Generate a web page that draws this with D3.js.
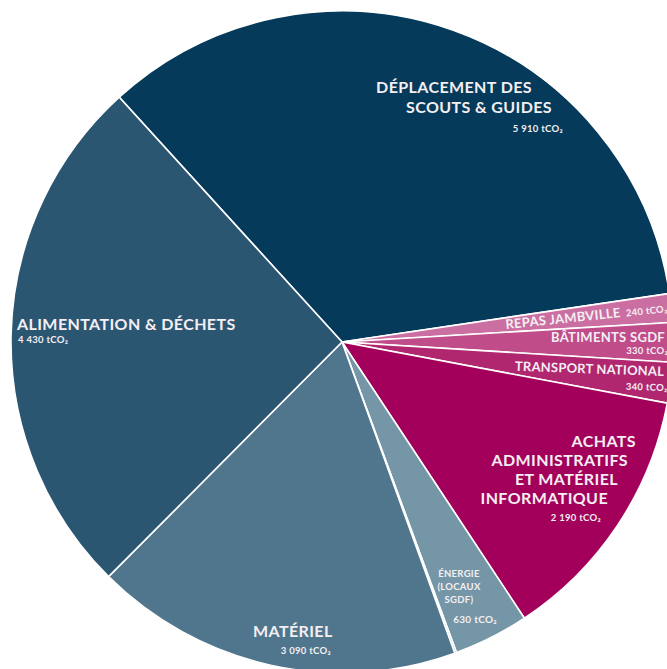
<html>
<head>
<meta charset="utf-8">
<style>
    body { margin: 0; background-color: #fff; }
    svg { display: block; }
    text { font-family: Lato, "Open Sans", sans-serif; font-weight: 700; fill: #f4eff3; }
</style>
<script src="https://d3js.org/d3.v7.min.js"></script>
</head>
<body>
<svg id="chart" width="667" height="669"></svg>
<script>
// data (tCO2), clockwise from the top-left
var categories = ["Déplacement des scouts & guides", "Repas Jambville", "Bâtiments SGDF",
                  "Transport national", "Achats administratifs et matériel informatique",
                  "Énergie (locaux SGDF)", "", "Matériel", "Alimentation & déchets"];
var values = [5910, 240, 330, 340, 2190, 630, 15, 3090, 4430];
var valueLabels = ["5 910 tCO₂", "240 tCO₂", "330 tCO₂", "340 tCO₂", "2 190 tCO₂",
                   "630 tCO₂", "", "3 090 tCO₂", "4 430 tCO₂"];
var colors = ["#053a5a", "#cb6fa2", "#c04c89", "#b0266f", "#a3005b",
              "#7596a6", "#5a7d91", "#4f768c", "#2b5672"];

var cx = 342, cy = 342, radius = 331;
var start = -42.3;

var svg = d3.select("#chart");
var g = svg.append("g").attr("transform", "translate(" + cx + "," + cy + ")");

var pie = d3.pie().sort(null).value(function (d) { return d; })
    .startAngle(start * Math.PI / 180)
    .endAngle((start + 360) * Math.PI / 180);
var arc = d3.arc().innerRadius(0).outerRadius(radius);

g.selectAll("path")
    .data(pie(values))
    .enter()
    .append("path")
    .attr("d", arc)
    .attr("fill", function (d, i) { return colors[i]; })
    .attr("stroke", "#fff")
    .attr("stroke-width", 1.6);

// label layout: name lines [text, x, y] + value position, page pixels
var labelLayout = [
    { lines: [["DÉPLACEMENT DES", 532, 93], ["SCOUTS & GUIDES", 552, 113]], size: 16, ls: 0.4, anchor: "end",
      val: [563, 132], vsize: 9.5 },
    { lines: [["REPAS JAMBVILLE", 621, 317]], size: 13, ls: 0.3, anchor: "end", rot: -6,
      val: [668, 317], vsize: 9.5 },
    { lines: [["BÂTIMENTS SGDF", 665, 342]], size: 13, ls: 0.3, anchor: "end", rot: 0,
      val: [668, 354], vsize: 9.5 },
    { lines: [["TRANSPORT NATIONAL", 664, 376]], size: 13, ls: 0.2, anchor: "end", rot: 2,
      val: [668, 391], vsize: 9.5 },
    { lines: [["ACHATS", 636, 447], ["ADMINISTRATIFS", 628, 466], ["ET MATÉRIEL", 618, 485],
              ["INFORMATIQUE", 608, 504]], size: 16, ls: 0.4, anchor: "end",
      val: [601, 521], vsize: 9.5 },
    { lines: [["ÉNERGIE", 459, 577], ["(LOCAUX", 459, 590], ["SGDF)", 459, 603]], size: 9.5, ls: 0.3, anchor: "middle",
      val: [497, 623], vsize: 10 },
    null,
    { lines: [["MATÉRIEL", 253, 637]], size: 16, ls: 0.4, anchor: "start",
      val: [331, 654], vsize: 9.5 },
    { lines: [["ALIMENTATION & DÉCHETS", 17, 330]], size: 16, ls: 0.4, anchor: "start",
      val: [18, 343], vsize: 9.5, vanchor: "start" }
];

labelLayout.forEach(function (lab, i) {
    if (!lab) return;
    var grp = svg.append("g");
    if (lab.rot) {
        var last = lab.lines[lab.lines.length - 1];
        grp.attr("transform", "rotate(" + lab.rot + "," + last[1] + "," + last[2] + ")");
    }
    lab.lines.forEach(function (l) {
        grp.append("text")
            .attr("x", l[1]).attr("y", l[2])
            .attr("text-anchor", lab.anchor)
            .style("font-size", lab.size + "px")
            .style("letter-spacing", lab.ls + "px")
            .text(l[0]);
    });
    grp.append("text")
        .attr("x", lab.val[0]).attr("y", lab.val[1])
        .attr("text-anchor", lab.vanchor || "end")
        .style("font-size", lab.vsize + "px")
        .style("letter-spacing", "0.3px")
        .text(valueLabels[i]);
});
</script>
</body>
</html>
